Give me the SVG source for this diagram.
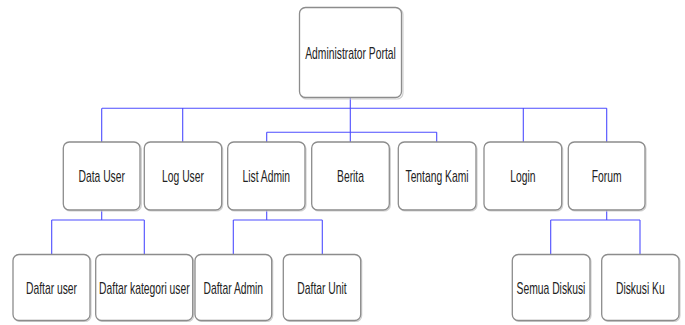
<svg xmlns="http://www.w3.org/2000/svg" width="685" height="325" viewBox="0 0 685 325">
<style>
.box{fill:#ffffff;stroke:#8c8c8c;stroke-width:1.3}
.sh{fill:none;stroke:#d0d0d0;stroke-width:1.2}
.lbl{font-family:"Liberation Sans",Arial,sans-serif;font-size:16px;fill:#222222;text-anchor:middle}
.ln{fill:none;stroke:#4d4dff;stroke-width:1.1}
</style>
<rect width="685" height="325" fill="#ffffff"/>
<g id="connectors">
<path class="ln" d="M350.3,98 V142 M102,108.3 H606.7 M101.7,108.3 V142 M182.7,108.3 V142 M523.3,108.3 V142 M606.7,108.3 V142 M266.7,132.3 H436.7 M266.7,132.3 V142 M436.7,132.3 V142"/>
<path class="ln" d="M101.7,210 V220 M51.7,220 H144.3 M51.7,220 V254.5 M144.3,220 V254.5"/>
<path class="ln" d="M266.7,210 V220 M233.3,220 H322.3 M233.3,220 V254.5 M322.3,220 V254.5"/>
<path class="ln" d="M606.7,210 V220 M550.7,220 H640 M550.7,220 V254.5 M640,220 V254.5"/>
</g>
<g id="root"><rect class="sh" x="300.5" y="8.5" width="102.5" height="90.5" rx="6"/><rect class="box" x="299.5" y="7.5" width="102" height="90" rx="6"/><text class="lbl" transform="translate(350.5,58.5) scale(0.645,1)">Administrator Portal</text></g>
<g id="data-user"><rect class="sh" x="64.3" y="143" width="77" height="68" rx="6"/><rect class="box" x="63.3" y="142" width="76.7" height="68" rx="6"/><text class="lbl" transform="translate(101.7,182.3) scale(0.645,1)">Data User</text></g>
<g id="log-user"><rect class="sh" x="145.3" y="143" width="77.4" height="68" rx="6"/><rect class="box" x="144.3" y="142" width="77.4" height="68" rx="6"/><text class="lbl" transform="translate(183,182.3) scale(0.645,1)">Log User</text></g>
<g id="list-admin"><rect class="sh" x="228.7" y="143" width="77.3" height="68" rx="6"/><rect class="box" x="227.7" y="142" width="77.3" height="68" rx="6"/><text class="lbl" transform="translate(266.3,182.3) scale(0.645,1)">List Admin</text></g>
<g id="berita"><rect class="sh" x="312.7" y="143" width="77.6" height="68" rx="6"/><rect class="box" x="311.7" y="142" width="77.6" height="68" rx="6"/><text class="lbl" transform="translate(350.5,182.3) scale(0.645,1)">Berita</text></g>
<g id="tentang-kami"><rect class="sh" x="399.3" y="143" width="77.7" height="68" rx="6"/><rect class="box" x="398.3" y="142" width="77.7" height="68" rx="6"/><text class="lbl" transform="translate(437,182.3) scale(0.645,1)">Tentang Kami</text></g>
<g id="login"><rect class="sh" x="485" y="143" width="77.7" height="68" rx="6"/><rect class="box" x="484" y="142" width="77.7" height="68" rx="6"/><text class="lbl" transform="translate(522.8,182.3) scale(0.645,1)">Login</text></g>
<g id="forum"><rect class="sh" x="569.3" y="143" width="76.7" height="68" rx="6"/><rect class="box" x="568.3" y="142" width="76.7" height="68" rx="6"/><text class="lbl" transform="translate(606.7,182.3) scale(0.645,1)">Forum</text></g>
<g id="daftar-user"><rect class="sh" x="14" y="255.5" width="77" height="66" rx="6"/><rect class="box" x="13" y="254.5" width="77" height="66" rx="6"/><text class="lbl" transform="translate(51.5,293.5) scale(0.645,1)">Daftar user</text></g>
<g id="daftar-kategori-user"><rect class="sh" x="96.7" y="255.5" width="97" height="66" rx="6"/><rect class="box" x="95.7" y="254.5" width="97" height="66" rx="6"/><text class="lbl" transform="translate(144.4,293.5) scale(0.645,1)">Daftar kategori user</text></g>
<g id="daftar-admin"><rect class="sh" x="196" y="255.5" width="76.7" height="66" rx="6"/><rect class="box" x="195" y="254.5" width="76.7" height="66" rx="6"/><text class="lbl" transform="translate(233.3,293.5) scale(0.645,1)">Daftar Admin</text></g>
<g id="daftar-unit"><rect class="sh" x="284.3" y="255.5" width="77.4" height="66" rx="6"/><rect class="box" x="283.3" y="254.5" width="77.4" height="66" rx="6"/><text class="lbl" transform="translate(322,293.5) scale(0.645,1)">Daftar Unit</text></g>
<g id="semua-diskusi"><rect class="sh" x="513.3" y="255.5" width="77.7" height="66" rx="6"/><rect class="box" x="512.3" y="254.5" width="77.7" height="66" rx="6"/><text class="lbl" transform="translate(551,293.5) scale(0.645,1)">Semua Diskusi</text></g>
<g id="diskusi-ku"><rect class="sh" x="602.7" y="255.5" width="77.3" height="66" rx="6"/><rect class="box" x="601.7" y="254.5" width="77.3" height="66" rx="6"/><text class="lbl" transform="translate(640.3,293.5) scale(0.645,1)">Diskusi Ku</text></g>
</svg>
